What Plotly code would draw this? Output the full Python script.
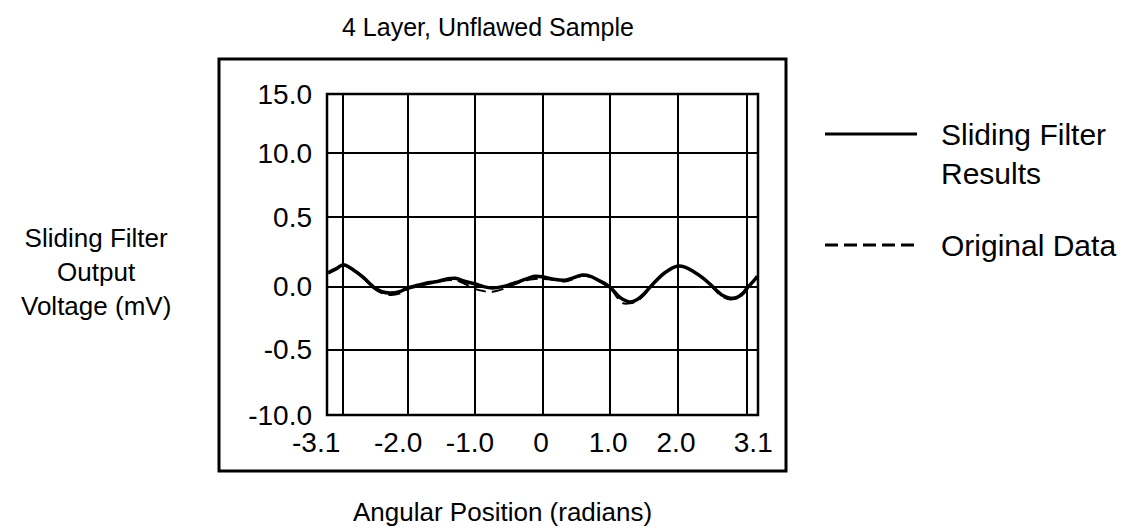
import plotly.graph_objects as go

# ---------------- data ----------------
angle_rad = [-3.17, -3.05, -2.95, -2.80, -2.65, -2.51, -2.38, -2.26, -2.12, -2.00,
             -1.85, -1.70, -1.56, -1.42, -1.30, -1.15, -1.00, -0.88, -0.75, -0.60,
             -0.41, -0.25, -0.12, 0.00, 0.13, 0.32, 0.45, 0.58, 0.70, 0.81,
             0.92, 1.02, 1.10, 1.18, 1.28, 1.39, 1.50, 1.62, 1.80, 1.99,
             2.10, 2.21, 2.35, 2.46, 2.56, 2.65, 2.76, 2.86, 2.95, 3.01,
             3.10, 3.16]

sliding_filter_mv = [0.11, 0.14, 0.17, 0.13, 0.07, 0.00, -0.04, -0.05, -0.04, -0.01,
                     0.01, 0.03, 0.04, 0.06, 0.065, 0.04, 0.02, 0.00, -0.01, 0.00,
                     0.03, 0.06, 0.08, 0.075, 0.06, 0.05, 0.07, 0.09, 0.08, 0.05,
                     0.02, -0.02, -0.07, -0.10, -0.12, -0.10, -0.05, 0.02, 0.11, 0.16,
                     0.15, 0.12, 0.07, 0.02, -0.03, -0.07, -0.09, -0.085, -0.05, -0.01,
                     0.04, 0.08]

original_mv = [0.10, 0.14, 0.165, 0.13, 0.065, -0.01, -0.05, -0.065, -0.055, -0.02,
               0.00, 0.02, 0.035, 0.05, 0.05, 0.02, -0.02, -0.035, -0.04, -0.02,
               0.02, 0.05, 0.06, 0.06, 0.055, 0.04, 0.06, 0.085, 0.075, 0.05,
               0.01, -0.03, -0.09, -0.13, -0.13, -0.11, -0.06, 0.02, 0.11, 0.16,
               0.15, 0.12, 0.07, 0.02, -0.04, -0.08, -0.10, -0.09, -0.06, -0.02,
               0.04, 0.08]

# grid lines (hand-drawn spacing of the original)
x_grid_vals = [-2.96, -2.0, -1.0, 0.0, 0.99, 1.99, 3.01]
# tick label positions (labels sit slightly left of their grid lines)
x_label_vals = [-3.35, -2.14, -1.08, -0.03, 0.96, 1.96, 3.10]
x_tick_text = ["-3.1", "-2.0", "-1.0", "0", "1.0", "2.0", "3.1"]
y_tick_vals = [-1.0, -0.49, 0.0, 0.54, 1.04, 1.5]
y_tick_text = ["-10.0", "-0.5", "0.0", "0.5", "10.0", "15.0"]

title_text = "4 Layer, Unflawed Sample"
x_title = "Angular Position (radians)"
y_title = "Sliding Filter<br>Output<br>Voltage (mV)"
legend_names = ["Sliding Filter<br>Results", "Original Data"]

# ---------------- layout geometry (pixels) ----------------
W, H = 1131, 532
PL, PR, PT, PB = 327, 758, 94, 415      # plot frame
L2, R2 = 285, 785                        # wider strip used by the tick-label axis
X_RANGE = [-3.19, 3.17]
PX_PER_RAD = (PR - PL) / (X_RANGE[1] - X_RANGE[0])
FONT = "Liberation Sans, Arial, Helvetica, sans-serif"


def fx(xp):
    return (xp - L2) / (R2 - L2)


def fy(yp):
    return (PB - yp) / (PB - PT)


def rad_at(xp):
    return X_RANGE[0] + (xp - PL) / PX_PER_RAD


fig = go.Figure()
fig.add_trace(go.Scatter(x=angle_rad, y=original_mv, mode="lines",
                         line=dict(color="black", width=2, dash="12px,6px", shape="spline"),
                         showlegend=False, hoverinfo="skip"))
fig.add_trace(go.Scatter(x=angle_rad, y=sliding_filter_mv, mode="lines",
                         line=dict(color="black", width=3.5, shape="spline"),
                         showlegend=False))
# carrier for the tick-label axis
fig.add_trace(go.Scatter(x=[], y=[], xaxis="x2", yaxis="y2", mode="lines",
                         showlegend=False, hoverinfo="skip"))

shapes = [
    dict(type="rect", xref="paper", yref="paper", x0=fx(219), x1=fx(786), y0=fy(471), y1=fy(59),
         line=dict(color="black", width=3), layer="above"),
    dict(type="rect", xref="paper", yref="paper", x0=fx(PL), x1=fx(PR), y0=fy(PB), y1=fy(PT),
         line=dict(color="black", width=2.5), layer="above"),
    dict(type="line", xref="paper", yref="paper", x0=fx(825), x1=fx(917), y0=fy(134), y1=fy(134),
         line=dict(color="black", width=3)),
    dict(type="line", xref="paper", yref="paper", x0=fx(825), x1=fx(917), y0=fy(245), y1=fy(245),
         line=dict(color="black", width=3, dash="13px,6px")),
]

annots = [
    dict(text=title_text, x=fx(340), y=fy(27), xref="paper", yref="paper", showarrow=False,
         xanchor="left", yanchor="middle", font=dict(size=25, color="black", family=FONT)),
    dict(text=x_title, x=fx(502), y=fy(512), xref="paper", yref="paper", showarrow=False,
         xanchor="center", yanchor="middle", font=dict(size=26, color="black", family=FONT)),
    dict(text=y_title, x=fx(96), y=fy(272), xref="paper", yref="paper", showarrow=False,
         xanchor="center", yanchor="middle", align="center",
         font=dict(size=26, color="black", family=FONT)),
    dict(text=legend_names[0], x=fx(939), y=fy(154), xref="paper", yref="paper", showarrow=False,
         xanchor="left", yanchor="middle", align="left",
         font=dict(size=30, color="black", family=FONT)),
    dict(text=legend_names[1], x=fx(939), y=fy(245), xref="paper", yref="paper", showarrow=False,
         xanchor="left", yanchor="middle", align="left",
         font=dict(size=30, color="black", family=FONT)),
]

fig.update_layout(
    width=W, height=H,
    margin=dict(l=L2, r=W - R2, t=PT, b=H - PB, pad=0),
    paper_bgcolor="white", plot_bgcolor="rgba(0,0,0,0)",
    shapes=shapes, annotations=annots,
    font=dict(family=FONT, size=28, color="black"),
    showlegend=False,
    xaxis=dict(domain=[fx(PL), fx(PR)], range=X_RANGE, tickvals=x_grid_vals,
               showticklabels=False, showgrid=True, gridcolor="black", gridwidth=2,
               zeroline=False, showline=False, ticks="", anchor="y"),
    yaxis=dict(domain=[0, 1], range=[-1.0, 1.5], tickvals=y_tick_vals,
               ticktext=y_tick_text, showgrid=True, gridcolor="black", gridwidth=2,
               zeroline=False, showline=False, ticks="", ticklabelstandoff=14,
               tickfont=dict(size=28, color="black", family=FONT), anchor="x"),
    xaxis2=dict(domain=[0, 1], range=[rad_at(L2), rad_at(R2)],
                tickvals=x_label_vals, ticktext=x_tick_text, showgrid=False,
                zeroline=False, showline=False, ticks="", anchor="y2",
                ticklabelstandoff=8, tickfont=dict(size=28, color="black", family=FONT)),
    yaxis2=dict(domain=[0, 1], range=[-1.0, 1.5], visible=False,
                showgrid=False, zeroline=False, anchor="x2"),
)

fig.write_html("out.html")
